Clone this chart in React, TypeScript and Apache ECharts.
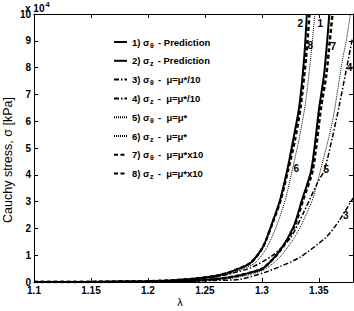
import React, { useEffect, useRef } from "react";
import * as echarts from "echarts";

const FONT = "Liberation Sans, Arial, sans-serif";

// lambda (stretch) and Cauchy stress [kPa] per curve
const lam1 = [1.10, 1.15, 1.20, 1.22, 1.24, 1.26, 1.275, 1.29, 1.3011, 1.3161, 1.3278, 1.3352, 1.3434, 1.3504, 1.3545, 1.3574, 1.3592];
const sig1 = [0, 20, 100, 250, 500, 1100, 2000, 3500, 5100, 11900, 20600, 30600, 41800, 65300, 77000, 90300, 100000];

const lam2 = [1.10, 1.15, 1.20, 1.22, 1.24, 1.26, 1.272, 1.29, 1.301, 1.31, 1.316, 1.3223, 1.3275, 1.3328, 1.3372, 1.3395];
const sig2 = [0, 40, 300, 600, 1200, 2300, 3700, 7100, 13100, 23100, 30600, 41800, 53000, 65300, 84000, 100000];

const lam3 = [1.10, 1.15, 1.20, 1.22, 1.24, 1.26, 1.281, 1.302, 1.3161, 1.3337, 1.3566, 1.368, 1.38];
const sig3 = [0, 10, 50, 120, 300, 600, 1000, 3500, 5800, 9300, 16800, 23000, 31300];

const lam4 = [1.10, 1.15, 1.20, 1.22, 1.24, 1.26, 1.275, 1.2897, 1.31, 1.325, 1.3364, 1.3487, 1.3549, 1.362, 1.368, 1.374, 1.3795];
const sig4 = [0, 30, 250, 500, 1000, 2000, 3400, 5200, 10100, 16400, 25700, 36900, 41800, 54100, 66000, 79000, 91000];

const lam5 = [1.10, 1.15, 1.20, 1.22, 1.24, 1.26, 1.275, 1.29, 1.303, 1.3161, 1.3308, 1.3443, 1.3522, 1.362, 1.3707, 1.3742, 1.3777];
const sig5 = [0, 20, 80, 200, 400, 900, 1500, 2800, 4800, 9400, 18200, 30600, 42900, 60000, 82800, 90300, 100000];

const lam6 = [1.10, 1.15, 1.20, 1.22, 1.24, 1.26, 1.275, 1.294, 1.3044, 1.313, 1.3205, 1.3267, 1.333, 1.338, 1.3425, 1.3465];
const sig6 = [0, 30, 250, 500, 1000, 1900, 3500, 7100, 12900, 21000, 30600, 41800, 54000, 66000, 82000, 100000];

const lam7 = [1.10, 1.15, 1.20, 1.22, 1.24, 1.26, 1.275, 1.29, 1.3011, 1.3165, 1.3285, 1.3362, 1.3447, 1.352, 1.3565, 1.3597, 1.3620];
const sig7 = [0, 20, 100, 250, 500, 1100, 2000, 3500, 5100, 11900, 20600, 30600, 41800, 65300, 77000, 90300, 100000];

const lam8 = [1.10, 1.15, 1.20, 1.22, 1.24, 1.26, 1.272, 1.29, 1.301, 1.3103, 1.3165, 1.323, 1.329, 1.334, 1.3388, 1.3418];
const sig8 = [0, 40, 300, 600, 1200, 2300, 3700, 7100, 13100, 23100, 30600, 41800, 53000, 65300, 84000, 100000];

// legend texts
const legendNum = ["1)", "2)", "3)", "4)", "5)", "6)", "7)", "8)"];
const legendSub = ["θ", "z", "θ", "z", "θ", "z", "θ", "z"];
const legendRest = ["- Prediction", "- Prediction", "-  μ=μ*/10", "-  μ=μ*/10", "-  μ=μ*", "-  μ=μ*", "-  μ=μ*x10", "-  μ=μ*x10"];

// curve number annotations [lambda, stress]
const annText = ["2", "1", "8", "7", "4", "6", "5", "3"];
const annLam = [1.3337, 1.3513, 1.3425, 1.3628, 1.3770, 1.3302, 1.3566, 1.3736];
const annSig = [96600, 96300, 88400, 87700, 79900, 42500, 41800, 25000];

const xMin = 1.1;
const xMax = 1.38;
const xStep = 0.05;
const yMin = 0;
const yMax = 100000;
const yStep = 10000;

const lams = [lam1, lam2, lam3, lam4, lam5, lam6, lam7, lam8];
const sigs = [sig1, sig2, sig3, sig4, sig5, sig6, sig7, sig8];

const styles: any[] = [
  { width: 2, type: "solid" },
  { width: 2, type: "solid" },
  { width: 1.5, type: [5, 2, 1.5, 2] },
  { width: 1.5, type: [5, 2, 1.5, 2] },
  { width: 1, type: [1, 1] },
  { width: 1, type: [1, 1] },
  { width: 2.5, type: [4, 2.5] },
  { width: 2.5, type: [4, 2.5] },
];

export default function App() {
  const ref = useRef<HTMLDivElement>(null);
  useEffect(() => {
    if (!ref.current) return;
    const chart = echarts.init(ref.current, null, { renderer: "svg" });
    const names = legendNum.map((n, i) => `${n} σ${legendSub[i]} ${legendRest[i]}`);
    const series: any[] = names.map((name, i) => ({
      type: "line",
      name,
      data: lams[i].map((l, j) => [l, sigs[i][j]]),
      showSymbol: false,
      symbol: "none",
      smooth: 0.25,
      lineStyle: { color: "#000", width: styles[i].width, type: styles[i].type },
      itemStyle: { color: "#000" },
      z: i >= 6 ? 4 : 3,
    }));
    const axisCommon = {
      axisLine: { show: true, onZero: false, lineStyle: { color: "#000", width: 1 } },
      axisTick: { show: true, inside: true, length: 4, lineStyle: { color: "#000" } },
      splitLine: { show: false },
    };
    const labelStyle = { color: "#000", fontSize: 10, fontWeight: "bold", fontFamily: FONT };
    const baseGraphic: any[] = [
      {
        type: "text",
        left: 25,
        top: 0,
        style: {
          text: "{a|x 10}{b|4}",
          rich: {
            a: { fontSize: 10, fontWeight: "bold", fontFamily: FONT, fill: "#000", padding: [4, 0, 0, 0] },
            b: { fontSize: 7.5, fontWeight: "bold", fontFamily: FONT, fill: "#000", padding: [0, 0, 4, 1] },
          },
        },
      },
      {
        type: "text",
        x: 8,
        y: 160,
        rotation: Math.PI / 2,
        style: {
          text: "Cauchy stress, σ [kPa]",
          fontSize: 12.5,
          fontFamily: FONT,
          fill: "#000",
          align: "center",
          verticalAlign: "middle",
        },
      },
      {
        type: "text",
        x: 180,
        y: 302,
        style: {
          text: "λ",
          fontSize: 11,
          fontFamily: FONT,
          fill: "#000",
          align: "center",
          verticalAlign: "middle",
        },
      },
    ];
    chart.setOption({
      animation: false,
      backgroundColor: "#fff",
      grid: { left: 34, right: 1, top: 14, bottom: 29 },
      xAxis: [
        {
          type: "value", min: xMin, max: xMax, interval: xStep, position: "bottom",
          ...axisCommon,
          axisLabel: { ...labelStyle, margin: 3, showMaxLabel: false, formatter: (v: number) => String(Number(v.toFixed(2))) },
        },
        {
          type: "value", min: xMin, max: xMax, interval: xStep, position: "top",
          ...axisCommon, axisLabel: { show: false },
        },
      ],
      yAxis: [
        {
          type: "value", min: yMin, max: yMax, interval: yStep, position: "left",
          ...axisCommon,
          axisLabel: { ...labelStyle, margin: 3, formatter: (v: number) => String(v / 10000) },
        },
        {
          type: "value", min: yMin, max: yMax, interval: yStep, position: "right",
          ...axisCommon, axisLabel: { show: false },
        },
      ],
      legend: {
        data: names,
        orient: "vertical",
        left: 108,
        top: 30,
        itemWidth: 13,
        itemHeight: 8,
        itemGap: 4.8,
        selectedMode: false,
        itemStyle: { opacity: 0 },
        textStyle: {
          color: "#000",
          fontSize: 9.5,
          fontWeight: "bold",
          fontFamily: FONT,
          lineHeight: 14,
          rich: {
            n: { fontSize: 9.5, fontWeight: "bold", fontFamily: FONT, color: "#000", lineHeight: 14 },
            sub: { fontSize: 7, fontWeight: "bold", fontFamily: FONT, color: "#000", padding: [6, 1.5, 0, 0.5] },
          },
        },
        formatter: (name: string) => {
          const i = names.indexOf(name);
          return `{n|${legendNum[i]} σ}{sub|${legendSub[i]}}{n| ${legendRest[i]}}`;
        },
      },
      graphic: baseGraphic,
      series,
    });
    const annGraphic = annText.map((t, i) => {
      const p = chart.convertToPixel({ xAxisIndex: 0, yAxisIndex: 0 }, [annLam[i], annSig[i]]) as number[];
      return {
        type: "text",
        x: p[0],
        y: p[1],
        z: 100,
        style: {
          text: t,
          fontSize: 10,
          fontWeight: "bold",
          fontFamily: FONT,
          fill: "#000",
          align: "center",
          verticalAlign: "middle",
        },
      };
    });
    chart.setOption({ graphic: [...baseGraphic, ...annGraphic] });
    return () => chart.dispose();
  }, []);
  return <div ref={ref} style={{ position: "absolute", left: 0, top: 0, width: 354, height: 311 }} />;
}
